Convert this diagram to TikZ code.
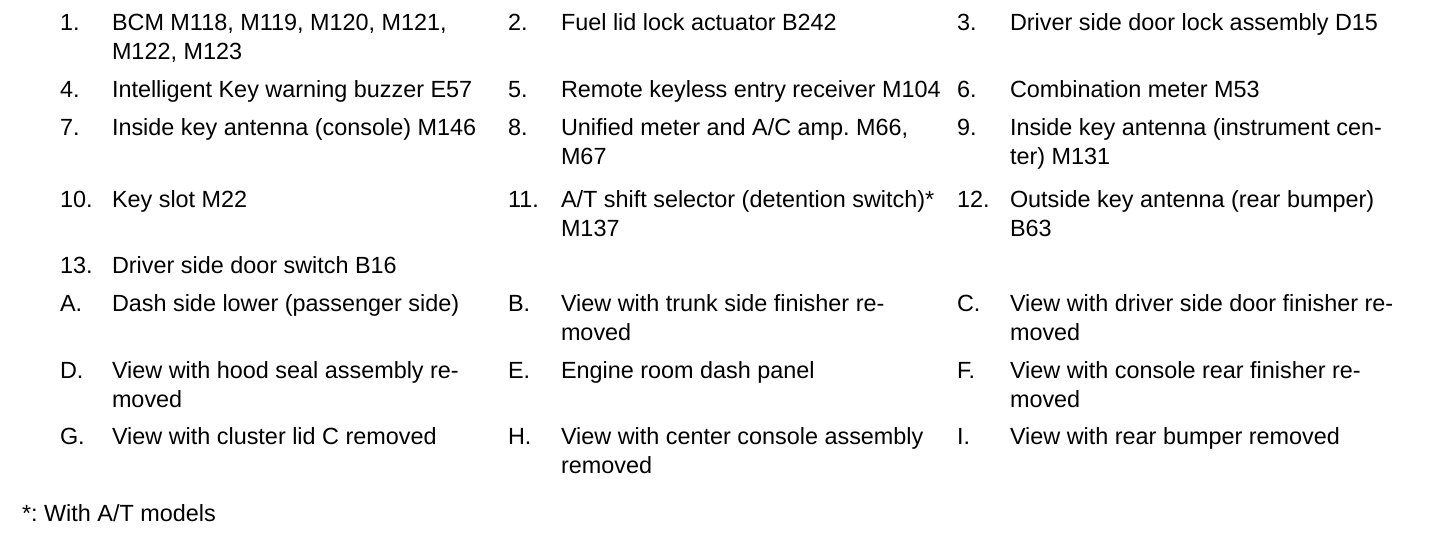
\documentclass[tikz,border=0pt]{standalone}
\usepackage{fontspec}
\setmainfont{Liberation Sans}
\begin{document}
\begin{tikzpicture}[x=1pt,y=-1pt,
  lbl/.style={anchor=base west,inner sep=0pt,outer sep=0pt,
    font=\fontsize{23.4}{29.5}\selectfont\frenchspacing}]
\useasboundingbox (0,0) rectangle (1456,538);
\newcommand\itm[4]{%
  \node[lbl] (#1n) at (#2,#3) {#4};}
\newcommand\txt[4]{%
  \node[lbl] (#1t) at (#2,#3) {\begin{tabular}[t]{@{}l@{}}#4\end{tabular}};}
% row 1
\itm{i1}{60}{30}{1.}   \txt{i1}{112}{30}{BCM M118, M119, M120, M121,\\M122, M123}
\itm{i2}{508}{30}{2.}  \txt{i2}{561}{30}{Fuel lid lock actuator B242}
\itm{i3}{957}{30}{3.}  \txt{i3}{1010}{30}{Driver side door lock assembly D15}
% row 4
\itm{i4}{60}{97}{4.}   \txt{i4}{112}{97}{Intelligent Key warning buzzer E57}
\itm{i5}{508}{97}{5.}  \txt{i5}{561}{97}{Remote keyless entry receiver M104}
\itm{i6}{957}{97}{6.}  \txt{i6}{1010}{97}{Combination meter M53}
% row 7
\itm{i7}{60}{135}{7.}  \txt{i7}{112}{135}{Inside key antenna (console) M146}
\itm{i8}{508}{135}{8.} \txt{i8}{561}{135}{Unified meter and A/C amp.\ M66,\\M67}
\itm{i9}{957}{135}{9.} \txt{i9}{1010}{135}{Inside key antenna (instrument cen-\\ter) M131}
% row 10
\itm{i10}{60}{207}{10.}  \txt{i10}{112}{207}{Key slot M22}
\itm{i11}{508}{207}{11.} \txt{i11}{561}{207}{A/T shift selector (detention switch)*\\M137}
\itm{i12}{957}{207}{12.} \txt{i12}{1010}{207}{Outside key antenna (rear bumper)\\B63}
% row 13
\itm{i13}{60}{273}{13.}  \txt{i13}{112}{273}{Driver side door switch B16}
% row A
\itm{iA}{60}{311}{A.}  \txt{iA}{112}{311}{Dash side lower (passenger side)}
\itm{iB}{508}{311}{B.} \txt{iB}{561}{311}{View with trunk side finisher re-\\moved}
\itm{iC}{957}{311}{C.} \txt{iC}{1010}{311}{View with driver side door finisher re-\\moved}
% row D
\itm{iD}{60}{378}{D.}  \txt{iD}{112}{378}{View with hood seal assembly re-\\moved}
\itm{iE}{508}{378}{E.} \txt{iE}{561}{378}{Engine room dash panel}
\itm{iF}{957}{378}{F.} \txt{iF}{1010}{378}{View with console rear finisher re-\\moved}
% row G
\itm{iG}{60}{444}{G.}  \txt{iG}{112}{444}{View with cluster lid C removed}
\itm{iH}{508}{444}{H.} \txt{iH}{561}{444}{View with center console assembly\\removed}
\itm{iI}{957}{444}{I.} \txt{iI}{1010}{444}{View with rear bumper removed}
% footnote
\node[lbl] (foot) at (22,521) {*:\ With A/T models};
\end{tikzpicture}
\end{document}
